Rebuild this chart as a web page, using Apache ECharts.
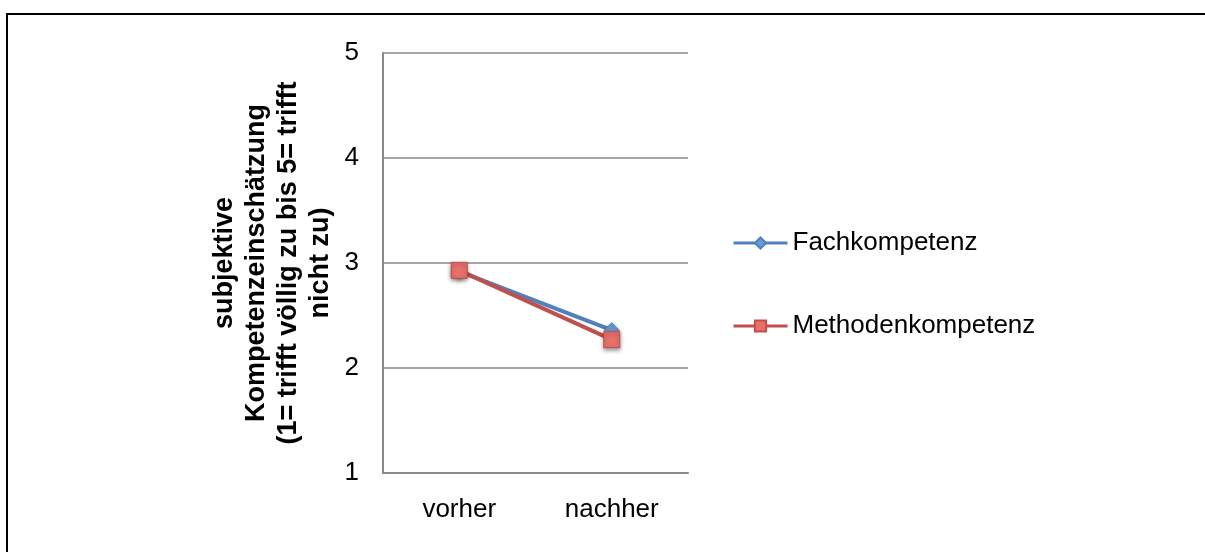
<!DOCTYPE html>
<html>
<head>
<meta charset="utf-8">
<script src="https://cdn.jsdelivr.net/npm/echarts@6/dist/echarts.min.js"></script>
<style>html,body{margin:0;padding:0;background:#fff}#c{width:1205px;height:552px}</style>
</head>
<body>
<div id="c"></div>
<script>
var categories = ['vorher', 'nachher'];
var fachkompetenz = [2.92, 2.36];
var methodenkompetenz = [2.93, 2.27];
var yTicks = [1, 2, 3, 4, 5];
var yTitle = 'subjektive\nKompetenzeinschätzung\n(1= trifft völlig zu bis 5= trifft\nnicht zu)';

var font = 'Liberation Sans, Arial, sans-serif';
var chart = echarts.init(document.getElementById('c'), null, {renderer: 'canvas'});
chart.setOption({
  backgroundColor: '#fff',
  animation: false,
  graphic: [{
    type: 'rect', silent: true, z: 100,
    shape: {x: 7, y: 14, width: 1400, height: 800},
    style: {fill: 'none', stroke: '#000', lineWidth: 2}
  }],
  grid: {left: 383, top: 53, right: 517, bottom: 79, containLabel: false},
  legend: {
    orient: 'vertical', left: 727, top: 225, itemGap: 57,
    itemWidth: 54, itemHeight: 14,
    lineStyle: {width: 3},
    textStyle: {fontFamily: font, fontSize: 26, color: '#000', padding: [0, 0, 0, 0]},
    data: ['Fachkompetenz', 'Methodenkompetenz']
  },
  xAxis: {
    type: 'category', data: categories, boundaryGap: true,
    axisLine: {lineStyle: {color: '#8a8a8a', width: 2}},
    axisTick: {show: false},
    axisLabel: {fontFamily: font, fontSize: 26, color: '#000', margin: 24}
  },
  yAxis: {
    type: 'value', min: yTicks[0], max: yTicks[yTicks.length - 1], interval: 1,
    name: yTitle, nameLocation: 'middle', nameGap: 46, nameRotate: 90,
    nameTextStyle: {fontFamily: font, fontSize: 27, fontWeight: 'bold', color: '#000', lineHeight: 32, align: 'center'},
    axisLine: {show: true, lineStyle: {color: '#8a8a8a', width: 2}},
    axisTick: {show: false},
    splitLine: {lineStyle: {color: '#8a8a8a', width: 1.5}},
    axisLabel: {fontFamily: font, fontSize: 26, color: '#000', margin: 24}
  },
  series: [{
    name: 'Fachkompetenz', type: 'line', data: fachkompetenz,
    symbol: 'diamond', symbolSize: 15,
    lineStyle: {color: '#4F81BD', width: 4},
    itemStyle: {color: '#6a9ad6', borderColor: '#4F81BD', borderWidth: 1, shadowBlur: 4, shadowColor: 'rgba(0,0,0,0.4)', shadowOffsetY: 2}
  }, {
    name: 'Methodenkompetenz', type: 'line', data: methodenkompetenz,
    symbol: 'rect', symbolSize: 16,
    lineStyle: {color: '#C0504D', width: 4},
    itemStyle: {color: '#E8706B', borderColor: '#C0504D', borderWidth: 1, shadowBlur: 4, shadowColor: 'rgba(0,0,0,0.4)', shadowOffsetY: 2}
  }]
});
</script>
</body>
</html>
